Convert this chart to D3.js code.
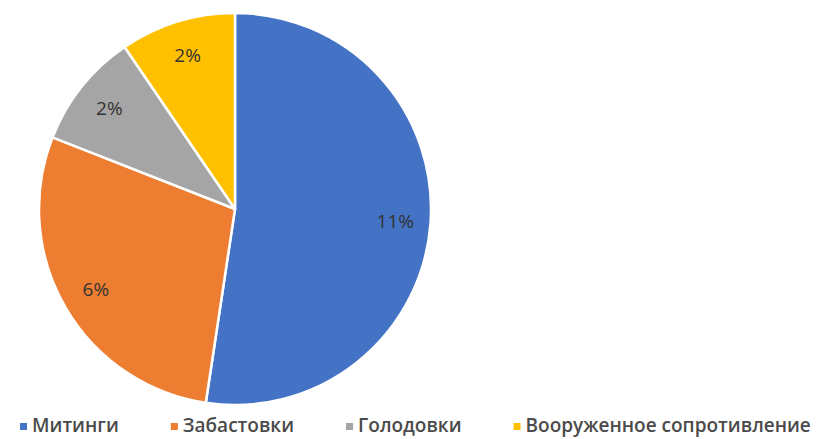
<!DOCTYPE html>
<html>
<head>
<meta charset="utf-8">
<script src="https://cdn.jsdelivr.net/npm/d3@7"></script>
<style>
  body { margin: 0; background: #fff; }
  text { font-family: "Open Sans", sans-serif; }
</style>
</head>
<body>
<div id="chart"></div>
<script>
// Chart data
var categories = ["Митинги", "Забастовки", "Голодовки", "Вооруженное сопротивление"];
var values = [11, 6, 2, 2];
var labels = ["11%", "6%", "2%", "2%"];
var colors = ["#4472C4", "#ED7D31", "#A5A5A5", "#FFC000"];

var width = 826, height = 439;
var cx = 235, cy = 209, radius = 196;

var svg = d3.select("#chart")
    .append("svg")
    .attr("width", width)
    .attr("height", height);

var pieData = categories.map(function(c, i) {
    return { label: c, value: values[i], text: labels[i], color: colors[i] };
});

var pie = d3.pie()
    .value(function(d) { return d.value; })
    .sort(null);

var arc = d3.arc()
    .innerRadius(0)
    .outerRadius(radius);

// labels sit at about 82% of the radius
var labelArc = d3.arc()
    .innerRadius(radius * 0.82)
    .outerRadius(radius * 0.82);

var g = svg.append("g")
    .attr("transform", "translate(" + cx + "," + cy + ")");

var arcs = g.selectAll(".arc")
    .data(pie(pieData))
    .enter().append("g")
    .attr("class", "arc");

arcs.append("path")
    .attr("d", arc)
    .attr("fill", function(d) { return d.data.color; })
    .attr("stroke", "#fff")
    .attr("stroke-width", 2.5)
    .attr("stroke-linejoin", "round");

arcs.append("text")
    .attr("transform", function(d) {
        var c = labelArc.centroid(d);
        return "translate(" + c[0] + "," + c[1] + ")";
    })
    .attr("text-anchor", "middle")
    .attr("dy", "0.35em")
    .attr("font-size", "19px")
    .attr("fill", "#333")
    .text(function(d) { return d.data.text; });

// Legend along the bottom
var legend = svg.append("g")
    .attr("transform", "translate(0,425)");

var x = 20;
pieData.forEach(function(d) {
    var item = legend.append("g").attr("transform", "translate(" + x + ",0)");
    item.append("rect")
        .attr("x", 0)
        .attr("y", -2)
        .attr("width", 7)
        .attr("height", 7)
        .attr("fill", d.color);
    var t = item.append("text")
        .attr("x", 12)
        .attr("dy", "0.35em")
        .attr("font-size", "19px")
        .attr("font-weight", 600)
        .attr("fill", "#4a4a4a")
        .text(d.label);
    x += 12 + t.node().getComputedTextLength() + 52;
});
</script>
</body>
</html>
